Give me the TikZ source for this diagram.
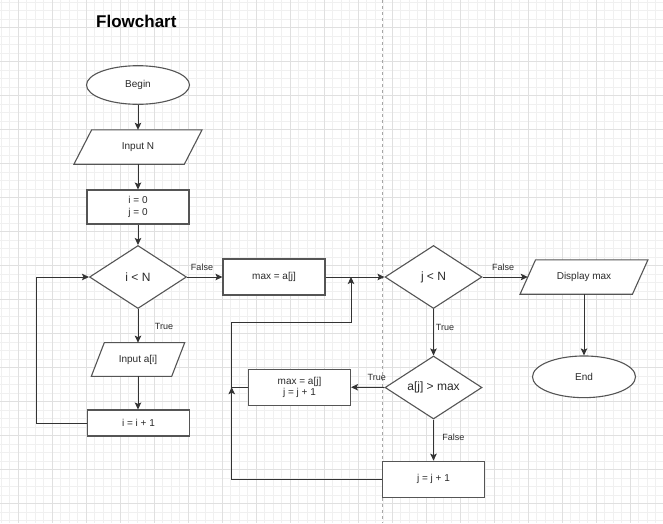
\documentclass[tikz,border=0pt]{standalone}
\usepackage{fontspec}
\setmainfont{Liberation Sans}
\usetikzlibrary{shapes.geometric,arrows.meta}
\definecolor{gridminor}{HTML}{F0F0F0}
\definecolor{gridmajor}{HTML}{E0E0E0}
\definecolor{edgecol}{HTML}{333333}
\definecolor{shapecol}{HTML}{555555}
\definecolor{txtcol}{HTML}{2A2A2A}
\tikzset{
  base/.style={draw=shapecol, line width=1.1pt, fill=white, inner sep=0pt, text=txtcol,
    font=\fontsize{10}{11.5}\selectfont, align=center},
  procbox/.style={base, rectangle, minimum width=102pt, minimum height=36pt},
  termnode/.style={base, ellipse, minimum width=103pt, minimum height=40pt},
  decide/.style={base, diamond, aspect=1.54, minimum width=97pt, minimum height=63pt,
    font=\fontsize{12}{14}\selectfont},
  iobox/.style={rectangle, inner sep=0pt, text=txtcol, font=\fontsize{10}{11.5}\selectfont, minimum height=34pt},
  ioline/.style={draw=shapecol, line width=1.1pt, fill=white, line join=miter},
  conn/.style={draw=edgecol, line width=1pt, -{Stealth[length=7pt,width=6.5pt,inset=1.5pt]}},
  plainconn/.style={draw=edgecol, line width=1pt},
  lbl/.style={text=txtcol, font=\fontsize{9}{10}\selectfont, inner sep=0pt},
}
\newcommand{\ioshape}[2]{% node name, half slant
  \draw[ioline] ([xshift=#2pt]#1.north west) -- ([xshift=#2pt]#1.north east)
    -- ([xshift=-#2pt]#1.south east) -- ([xshift=-#2pt]#1.south west) -- cycle;
  \node[iobox] at (#1) {\csname iotext#1\endcsname};}
\begin{document}
\begin{tikzpicture}[x=1pt,y=-1pt]
\useasboundingbox (0,0) rectangle (663,523);
\fill[white] (0,0) rectangle (663,523);
% grid
\foreach \i in {-2,...,76} {
  \draw[gridminor, line width=0.7pt] ({18.3+8.5*\i},0) -- ({18.3+8.5*\i},523);
}
\foreach \i in {0,...,62} {
  \draw[gridminor, line width=0.7pt] (0,{-6.3+8.5*\i}) -- (663,{-6.3+8.5*\i});
}
\foreach \i in {0,...,19} {
  \draw[gridmajor, line width=0.9pt] ({18.3+34*\i},0) -- ({18.3+34*\i},523);
}
\foreach \i in {1,...,15} {
  \draw[gridmajor, line width=0.9pt] (0,{-6.3+34*\i}) -- (663,{-6.3+34*\i});
}
% page break line
\draw[color=black!35, line width=0.8pt, dash pattern=on 3pt off 3pt] (382,0) -- (382,523);

% title
\node[anchor=base west, inner sep=0pt, font=\fontsize{17}{20}\selectfont\bfseries] (title) at (96,27) {Flowchart};

% nodes
\node[termnode, minimum height=38.6pt] (begin) at (138,85) {Begin};
\node[iobox, minimum width=110pt] (inN) at (138,147) {};
\node[procbox, minimum height=34pt] (init) at (138,207) {i = 0\\j = 0};
\node[decide] (c1) at (138,277) {i < N};
\node[iobox, minimum width=80pt, minimum height=33.3pt] (inA) at (138,359.5) {};
\node[procbox, minimum height=26pt] (inc) at (138.5,423) {i = i + 1};
\node[procbox] (maxset) at (274,277) {max = a[j]};
\node[decide] (c2) at (433.5,277) {j < N};
\node[decide] (c3) at (433.5,387.5) {a[j] > max};
\node[procbox] (upd) at (299.5,387.2) {max = a[j]\\j = j + 1};
\node[procbox] (jinc) at (433.5,479.2) {j = j + 1};
\node[iobox, minimum width=112pt] (disp) at (584,277) {};
\node[termnode, minimum height=41.7pt] (endn) at (584,376.8) {End};

% parallelogram outlines and their texts
\def\iotextinN{Input N}
\def\iotextinA{Input a[i]}
\def\iotextdisp{Display max}
\ioshape{inN}{8.85}
\ioshape{inA}{6.5}
\ioshape{disp}{7.75}

% helper coordinates
\coordinate (loopx) at (36.7,0);
\coordinate (loopb) at (231.7,322);
\coordinate (join1) at (351,277);
\coordinate (join2) at (231.7,387.2);

% connectors
\draw[conn] (begin) -- (inN);
\draw[conn] (inN) -- (init);
\draw[conn] (init) -- (c1);
\draw[conn] (c1) -- (inA);
\draw[conn] (inA.south) -- (inA.south |- inc.north);
\draw[conn] (inc.west) -- (inc.west -| loopx) |- (c1.west);
\draw[conn] (c1.east) -- (maxset.west);
\draw[conn] (maxset.east) -- (c2.west);
\draw[conn] (c2.east) -- (disp.west);
\draw[conn] (disp) -- (endn);
\draw[conn] (c2) -- (c3);
\draw[conn] (c3.west) -- (upd.east);
\draw[conn] (c3) -- (jinc);
\draw[conn] (jinc.west) -| (loopb) -- (loopb -| join1) -- (join1);
\draw[plainconn] (upd.west) -- (join2);
\draw[conn] ([yshift=-8pt]join2) -- (join2);

% labels
\node[lbl] (lf1) at (202,267) {False};
\node[lbl] (lt1) at (164,326) {True};
\node[lbl] (lf2) at (503,267) {False};
\node[lbl] (lt2) at (445,327) {True};
\node[lbl] (lt3) at (376.7,377) {True};
\node[lbl] (lf3) at (453.3,437) {False};
\end{tikzpicture}
\end{document}
